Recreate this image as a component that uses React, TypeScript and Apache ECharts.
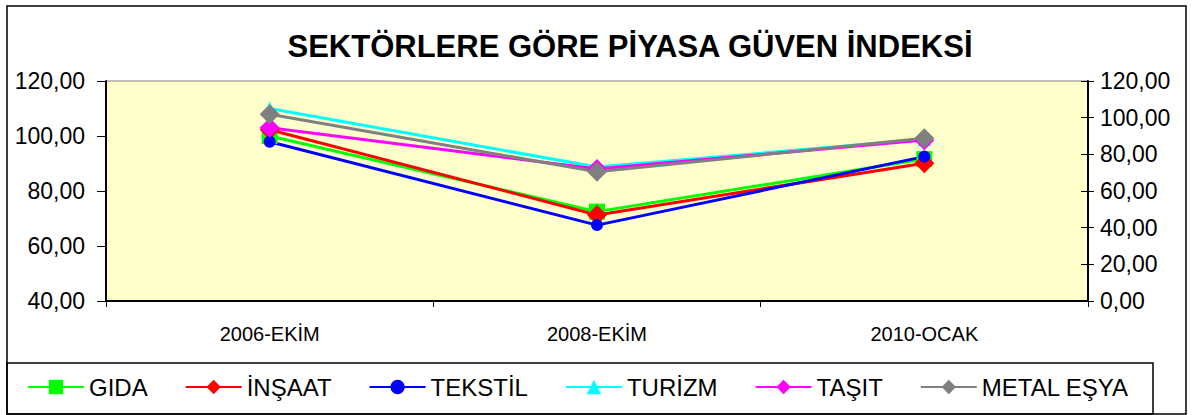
import React, { useEffect, useRef } from "react";
import * as echarts from "echarts";

const categories = ["2006-EKİM", "2008-EKİM", "2010-OCAK"];
const gida = [100.0, 72.5, 91.6];
const insaat = [102.3, 71.3, 90.1];
const tekstil = [97.9, 67.6, 92.5];
const turizm = [110.0, 88.7, 98.8];
const tasit = [103.0, 88.0, 98.5];
const metalEsya = [107.9, 87.0, 99.2];
const titleText = "SEKTÖRLERE GÖRE PİYASA GÜVEN İNDEKSİ";

const FONT = "'Liberation Sans', Arial, sans-serif";

const fmt = (v: number) => v.toFixed(2).replace(".", ",");

export default function App() {
  const ref = useRef<HTMLDivElement>(null);
  useEffect(() => {
    if (!ref.current) return;
    const chart = echarts.init(ref.current, undefined, { renderer: "svg" });
    const mk = (
      name: string,
      data: number[],
      color: string,
      symbol: string,
      size: number | number[]
    ) => ({
      name,
      type: "line",
      data,
      yAxisIndex: 0,
      color,
      symbol,
      symbolSize: size,
      showAllSymbol: true,
      lineStyle: { color, width: 3 },
      itemStyle: { color },
      emphasis: { disabled: true },
    });
    chart.setOption({
      animation: false,
      backgroundColor: "#ffffff",
      textStyle: { fontFamily: FONT },
      graphic: [
        {
          type: "rect",
          shape: { x: 7, y: 6, width: 1179, height: 408 },
          style: { fill: "none", stroke: "#000", lineWidth: 1.5 },
          silent: true,
          z: -10,
        },
        {
          type: "rect",
          shape: { x: 7, y: 363, width: 1146, height: 51 },
          style: { fill: "none", stroke: "#000", lineWidth: 1.5 },
          silent: true,
        },
        {
          type: "text",
          x: 630,
          y: 46,
          style: {
            text: titleText,
            fontFamily: FONT,
            fontWeight: "bold",
            fontSize: 31,
            fill: "#000",
            textAlign: "center",
            textVerticalAlign: "middle",
          },
        },
      ],
      grid: {
        left: 106,
        right: 110,
        top: 81,
        bottom: 114,
        show: true,
        backgroundColor: "#FFFFCC",
        borderColor: "#808080",
        borderWidth: 1,
        containLabel: false,
      },
      legend: {
        left: 27,
        top: 375,
        padding: 0,
        itemWidth: 56,
        itemHeight: 18,
        itemGap: 37,
        textStyle: { fontFamily: FONT, fontSize: 24, color: "#000" },
        data: ["GIDA", "İNŞAAT", "TEKSTİL", "TURİZM", "TAŞIT", "METAL EŞYA"],
      },
      xAxis: {
        type: "category",
        data: categories,
        boundaryGap: true,
        axisLine: { lineStyle: { color: "#000", width: 2 } },
        axisTick: { show: true, length: 6, lineStyle: { color: "#000" } },
        axisLabel: {
          fontFamily: FONT,
          fontSize: 20,
          color: "#000",
          margin: 23,
        },
      },
      yAxis: [
        {
          type: "value",
          min: 40,
          max: 120,
          interval: 20,
          position: "left",
          axisLine: { show: true, lineStyle: { color: "#000", width: 2 } },
          axisTick: { show: true, length: 9, lineStyle: { color: "#000" } },
          splitLine: { show: false },
          axisLabel: {
            fontFamily: FONT,
            fontSize: 23,
            color: "#000",
            margin: 21,
            formatter: fmt,
          },
        },
        {
          type: "value",
          min: 0,
          max: 120,
          interval: 20,
          position: "right",
          axisLine: { show: true, lineStyle: { color: "#000", width: 2 } },
          axisTick: { show: true, length: 6, lineStyle: { color: "#000" } },
          splitLine: { show: false },
          axisLabel: {
            fontFamily: FONT,
            fontSize: 23,
            color: "#000",
            margin: 12,
            formatter: fmt,
          },
        },
        {
          type: "value",
          min: 0,
          max: 120,
          interval: 20,
          position: "right",
          axisLine: { show: false },
          axisTick: { show: true, inside: true, length: 7, lineStyle: { color: "#000" } },
          splitLine: { show: false },
          axisLabel: { show: false },
        },
      ],
      series: [
        mk("GIDA", gida, "#00FF00", "rect", 16),
        mk("İNŞAAT", insaat, "#FF0000", "diamond", 20),
        mk("TEKSTİL", tekstil, "#0000FF", "circle", 12),
        mk("TURİZM", turizm, "#00FFFF", "triangle", 14),
        mk("TAŞIT", tasit, "#FF00FF", "diamond", 20),
        mk("METAL EŞYA", metalEsya, "#808080", "diamond", 20),
      ],
    });
    return () => chart.dispose();
  }, []);
  return (
    <div
      ref={ref}
      style={{ position: "absolute", left: 0, top: 0, width: 1198, height: 415 }}
    />
  );
}
